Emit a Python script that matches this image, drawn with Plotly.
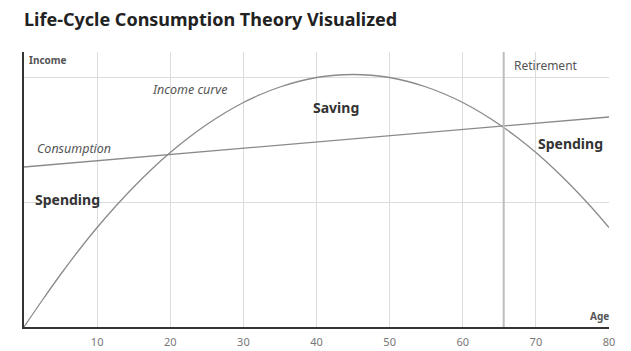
import plotly.graph_objects as go

# Data
ages = [0, 2.5, 5, 7.5, 10, 12.5, 15, 17.5, 20, 22.5, 25, 27.5, 30, 32.5, 35, 37.5, 40, 42.5, 45,
        47.5, 50, 52.5, 55, 57.5, 60, 62.5, 65, 67.5, 70, 72.5, 75, 77.5, 80]
income = [0, 10.7, 21.0, 30.7, 39.8, 48.2, 56.0, 63.2, 69.8, 75.7, 81.0, 85.7, 89.8, 93.2, 96.0, 98.2, 99.8, 100.7, 101.0,
          100.7, 99.8, 98.2, 96.0, 93.2, 89.8, 85.7, 81.0, 75.7, 69.8, 63.2, 56.0, 48.2, 39.8]
cons_ages = [0, 80]
consumption = [64, 84]
retirement_age = 65.6
x_ticks = [10, 20, 30, 40, 50, 60, 70, 80]
y_grid = [0, 50, 100]

FONT = "Noto Sans"

fig = go.Figure()
fig.add_trace(go.Scatter(x=ages, y=income, mode="lines", line=dict(color="#8a8a8a", width=1.3, shape="spline"),
                         hoverinfo="skip", showlegend=False))
fig.add_trace(go.Scatter(x=cons_ages, y=consumption, mode="lines", line=dict(color="#8a8a8a", width=1.3),
                         hoverinfo="skip", showlegend=False))

fig.add_shape(type="line", x0=retirement_age, x1=retirement_age, y0=0, y1=1, yref="paper",
              line=dict(color="#bdbdbd", width=2))

anns = [
    dict(x=1.5, y=71.5, text="<i>Consumption</i>", xanchor="left", font=dict(size=12.5, color="#555")),
    dict(x=22.7, y=95, text="<i>Income curve</i>", xanchor="center", font=dict(size=12.5, color="#555")),
    dict(x=42.6, y=88, text="<b>Saving</b>", xanchor="center", font=dict(size=14, color="#333")),
    dict(x=74.8, y=73.5, text="<b>Spending</b>", xanchor="center", font=dict(size=14, color="#333")),
    dict(x=6.0, y=51, text="<b>Spending</b>", xanchor="center", font=dict(size=14, color="#333")),
    dict(x=66.8, y=104.5, text="Retirement", xanchor="left", font=dict(size=12, color="#555")),
]
for a in anns:
    fig.add_annotation(showarrow=False, yanchor="middle", **a)

fig.add_annotation(x=0, xref="paper", y=1, yref="paper", text="<b>Income</b>", showarrow=False,
                   xanchor="left", yanchor="top", xshift=3, yshift=1, font=dict(size=10, color="#555"))
fig.add_annotation(x=1, xref="paper", y=0, yref="paper", text="<b>Age</b>", showarrow=False,
                   xanchor="right", yanchor="bottom", xshift=2, yshift=2, font=dict(size=10, color="#555"))

fig.update_layout(
    width=631, height=351,
    margin=dict(l=24, r=22, t=52, b=24, autoexpand=False),
    paper_bgcolor="white", plot_bgcolor="white",
    font=dict(family=FONT),
    title=dict(text="<b>Life-Cycle Consumption Theory Visualized</b>", x=0, xref="paper", xanchor="left",
               y=0.945, yanchor="middle", font=dict(size=18, color="#222", family=FONT)),
    xaxis=dict(range=[0, 80], tickvals=x_ticks, showgrid=True, gridcolor="#dcdcdc", gridwidth=1,
               showline=True, linecolor="#333", linewidth=1.5, zeroline=False, ticks="", automargin=False,
               ticklabelstandoff=4, tickfont=dict(size=11, color="#777"), fixedrange=True),
    yaxis=dict(range=[0, 110], tickvals=y_grid, showticklabels=False, showgrid=True, gridcolor="#dcdcdc",
               showline=True, linecolor="#333", linewidth=1.5, zeroline=False, ticks="", automargin=False,
               fixedrange=True),
)

fig.write_html("out.html")
